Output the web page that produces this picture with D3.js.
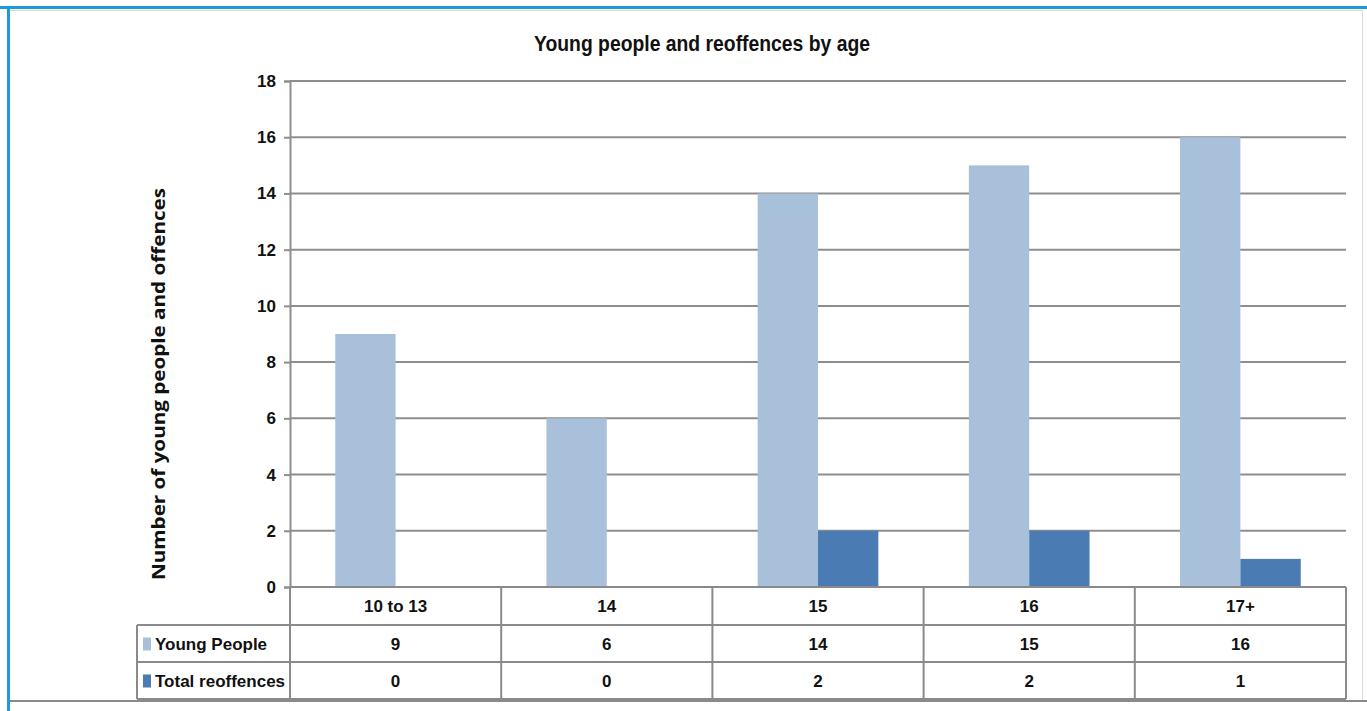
<!DOCTYPE html>
<html>
<head>
<meta charset="utf-8">
<script src="https://cdn.jsdelivr.net/npm/d3@7"></script>
<style>
  html, body { margin: 0; padding: 0; background: #ffffff; }
  svg { display: block; }
</style>
</head>
<body>
<svg id="chart" width="1367" height="711"></svg>
<script>
// Data
const categories = ["10 to 13", "14", "15", "16", "17+"];
const youngPeople = [9, 6, 14, 15, 16];
const totalReoffences = [0, 0, 2, 2, 1];
const seriesNames = ["Young People", "Total reoffences"];
const seriesColors = ["#a8c0da", "#4a7bb2"];
const yTicks = [0, 2, 4, 6, 8, 10, 12, 14, 16, 18];

(function () {
const svg = d3.select("#chart");
const W = 1367, H = 711;
const font = "'Liberation Sans Narrow', 'Liberation Sans', Arial, sans-serif";
const gridColor = "#8e8e8e";

// Frame
svg.append("rect").attr("x", 0).attr("y", 0).attr("width", W).attr("height", H).attr("fill", "#fff");
svg.append("line").attr("x1", 0).attr("x2", W).attr("y1", 7.5).attr("y2", 7.5)
  .attr("stroke", "#1b9cd8").attr("stroke-width", 3);
svg.append("line").attr("x1", 8.5).attr("x2", 8.5).attr("y1", 6).attr("y2", H)
  .attr("stroke", "#1b9cd8").attr("stroke-width", 3);
svg.append("line").attr("x1", 10).attr("x2", 1362).attr("y1", 10.5).attr("y2", 10.5)
  .attr("stroke", "#d6d6d6").attr("stroke-width", 1);
svg.append("line").attr("x1", 1362.5).attr("x2", 1362.5).attr("y1", 10).attr("y2", 700)
  .attr("stroke", "#dcdcdc").attr("stroke-width", 1);
svg.append("line").attr("x1", 10).attr("x2", 1367).attr("y1", 701).attr("y2", 701)
  .attr("stroke", "#8a8a8a").attr("stroke-width", 2);

// Plot area
const pL = 290, pR = 1346, pT = 81, pB = 587;

const x = d3.scaleBand().domain(categories).range([pL, pR]).paddingInner(0).paddingOuter(0);
const y = d3.scaleLinear().domain([0, 18]).range([pB, pT]);

// Bars occupy 2 of 3.5 parts of each category (gap width 150%)
const barW = x.bandwidth() / 3.5;
const sub = d3.scaleBand().domain([0, 1]).range([0, 2 * barW]);

// Gridlines
svg.append("g").selectAll("line").data(yTicks.filter(d => d > 0)).join("line")
  .attr("x1", pL).attr("x2", pR)
  .attr("y1", d => y(d)).attr("y2", d => y(d))
  .attr("stroke", gridColor).attr("stroke-width", 2);

// Bars
const series = [youngPeople, totalReoffences];
series.forEach((vals, si) => {
  svg.append("g").selectAll("rect").data(vals).join("rect")
    .attr("x", (d, i) => x(categories[i]) + 0.75 * barW + sub(si))
    .attr("width", barW)
    .attr("y", d => y(d))
    .attr("height", d => y(0) - y(d))
    .attr("fill", seriesColors[si]);
});

// Y axis
const yAxis = d3.axisLeft(y).tickValues(yTicks).tickSize(6).tickPadding(8);
const ga = svg.append("g").attr("transform", `translate(${pL},0)`).call(yAxis);
ga.select(".domain").attr("stroke", gridColor).attr("stroke-width", 2);
ga.selectAll(".tick line").attr("stroke", gridColor).attr("stroke-width", 2);
ga.selectAll(".tick text").attr("font-family", font).attr("font-weight", "bold")
  .attr("font-size", 17).attr("fill", "#111");

// Title
svg.append("text").attr("x", 702).attr("y", 51).attr("text-anchor", "middle")
  .attr("font-family", font).attr("font-weight", "bold").attr("font-size", 22)
  .attr("textLength", 336).attr("lengthAdjust", "spacingAndGlyphs")
  .attr("fill", "#111").text("Young people and reoffences by age");

// Y-axis title
svg.append("text")
  .attr("transform", `translate(165,${384}) rotate(-90)`)
  .attr("text-anchor", "middle")
  .attr("font-family", "'Open Sans', 'DejaVu Sans', sans-serif").attr("font-weight", "bold")
  .attr("font-size", 17).attr("fill", "#111")
  .attr("textLength", 392).attr("lengthAdjust", "spacingAndGlyphs")
  .text("Number of young people and offences");

// Data table
const rowY = [pB, 625, 662, 699];
const tableLeft = 137;
const tbl = svg.append("g");
const tStroke = "#8a8a8a";

tbl.append("line").attr("x1", pL).attr("x2", pR).attr("y1", rowY[0]).attr("y2", rowY[0])
  .attr("stroke", tStroke).attr("stroke-width", 2);
[rowY[1], rowY[2], rowY[3]].forEach(yy => {
  tbl.append("line").attr("x1", tableLeft).attr("x2", pR).attr("y1", yy).attr("y2", yy)
    .attr("stroke", tStroke).attr("stroke-width", 2);
});
tbl.append("line").attr("x1", tableLeft).attr("x2", tableLeft).attr("y1", rowY[1]).attr("y2", rowY[3])
  .attr("stroke", tStroke).attr("stroke-width", 2);
categories.forEach(c => {
  const xx = x(c);
  tbl.append("line").attr("x1", xx).attr("x2", xx).attr("y1", rowY[0]).attr("y2", rowY[3])
    .attr("stroke", tStroke).attr("stroke-width", 2);
});
tbl.append("line").attr("x1", pR).attr("x2", pR).attr("y1", rowY[0]).attr("y2", rowY[3])
  .attr("stroke", tStroke).attr("stroke-width", 2);

// header row: categories
tbl.selectAll("text.cat").data(categories).join("text").attr("class", "cat")
  .attr("x", d => x(d) + x.bandwidth() / 2).attr("y", (rowY[0] + rowY[1]) / 2 + 6)
  .attr("text-anchor", "middle").attr("font-family", font).attr("font-weight", "bold")
  .attr("font-size", 17).attr("fill", "#111").text(d => d);

// value rows with legend keys
series.forEach((vals, si) => {
  const cy = (rowY[si + 1] + rowY[si + 2]) / 2;
  tbl.append("rect").attr("x", 143).attr("y", cy - 6).attr("width", 8).attr("height", 13)
    .attr("fill", seriesColors[si]);
  tbl.append("text").attr("x", 155).attr("y", cy + 6)
    .attr("font-family", font).attr("font-weight", "bold").attr("font-size", 17)
    .attr("fill", "#111").text(seriesNames[si]);
  tbl.selectAll(null).data(vals).join("text")
    .attr("x", (d, i) => x(categories[i]) + x.bandwidth() / 2).attr("y", cy + 6)
    .attr("text-anchor", "middle").attr("font-family", font).attr("font-weight", "bold")
    .attr("font-size", 17).attr("fill", "#111").text(d => d);
});
})();
</script>
</body>
</html>
